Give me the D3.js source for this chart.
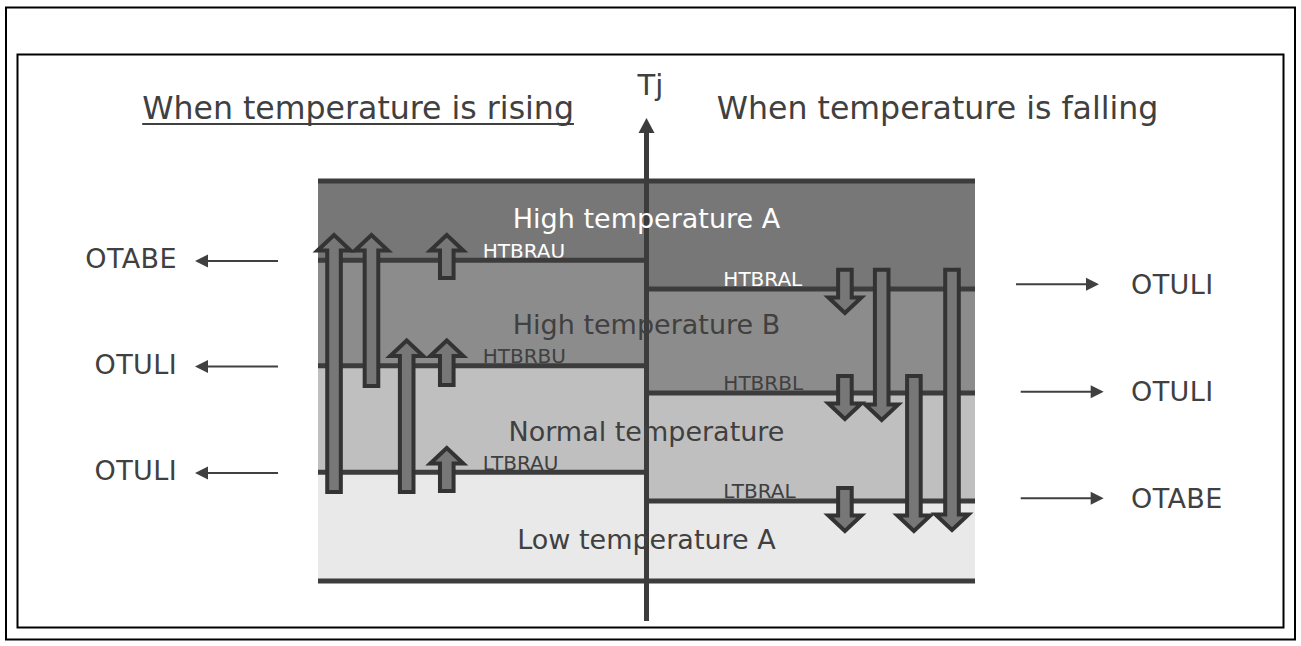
<!DOCTYPE html>
<html><head><meta charset="utf-8">
<script src="https://cdn.jsdelivr.net/npm/d3@7"></script>
<style>
html,body{margin:0;padding:0;background:#fff;}
svg{display:block;}
text{font-family:"DejaVu Sans",Verdana,sans-serif;}
</style>
</head><body>
<svg id="c" width="1301" height="646"></svg>
<script>
// ---------------- data ----------------
const titles = ["When temperature is rising", "When temperature is falling"];
const axisLabel = "Tj";
const bandNames = ["High temperature A", "High temperature B", "Normal temperature", "Low temperature A"];
const bandLabelLevels = [88.25, 61.7, 35, 8];          // Tj level of each band label baseline
const tjMax = 100, tjMin = 0;

const risingNames = ["HTBRAU", "HTBRBU", "LTBRAU"];
const risingLevels = [80.2, 53.8, 27.2];
const fallingNames = ["HTBRAL", "HTBRBL", "LTBRAL"];
const fallingLevels = [73, 47, 20];

const risingNotes = ["OTABE", "OTULI", "OTULI"];
const fallingNotes = ["OTULI", "OTULI", "OTABE"];
const fallingNoteLevels = [74.2, 47.3, 20.7];

// arrows: lane (0-100 across the chart), from Tj, to Tj
const upLanes = [2.44, 8.14, 19.6, 13.5, 19.6, 19.6];
const upFrom  = [22.25, 48.75, 75.75, 22.25, 49, 22.5];
const upTo    = [86.5, 86.5, 86.5, 60.1, 60.1, 33.25];
const downLanes = [80.2, 85.8, 96.5, 80.2, 90.7, 80.2];
const downFrom  = [77.8, 77.8, 77.8, 51.25, 51.25, 23.25];
const downTo    = [67, 40.25, 12.75, 40.5, 12.5, 12.5];

// ---------------- styles / layout ----------------
const bandFill = ["#777777", "#8c8c8c", "#bfbfbf", "#e9e9e9"];
const bandTextFill = ["#ffffff", "#404040", "#404040", "#404040"];
const risingLabelFill = ["#ffffff", "#404040", "#404040"];
const fallingLabelFill = ["#ffffff", "#404040", "#404040"];
const lineCol = "#3c3c3c", textCol = "#404040";

const svg = d3.select("#c");
const x = d3.scaleLinear().domain([0, 100]).range([318, 975]);
const y = d3.scaleLinear().domain([tjMin, tjMax]).range([581, 181]);
const axisLane = 50;

// frames
svg.append("rect").attr("x", 6).attr("y", 7.5).attr("width", 1289).attr("height", 632)
  .attr("fill", "none").attr("stroke", "#000").attr("stroke-width", 2);
svg.append("rect").attr("x", 17.5).attr("y", 54.5).attr("width", 1266).attr("height", 573)
  .attr("fill", "none").attr("stroke", "#000").attr("stroke-width", 2);

// bands
function bands(levels, x0, x1) {
  const edges = [tjMax, ...levels, tjMin];
  const g = svg.append("g");
  g.selectAll("rect").data(bandNames).join("rect")
    .attr("x", x(x0)).attr("width", x(x1) - x(x0))
    .attr("y", (d, i) => y(edges[i])).attr("height", (d, i) => y(edges[i + 1]) - y(edges[i]))
    .attr("fill", (d, i) => bandFill[i]);
}
bands(risingLevels, 0, axisLane);
bands(fallingLevels, axisLane, 100);

// threshold labels
svg.append("g").selectAll("text").data(risingNames).join("text")
  .attr("x", x(25.07)).attr("y", (d, i) => y(risingLevels[i]) - 2.5)
  .attr("font-size", 20).attr("fill", (d, i) => risingLabelFill[i]).text(d => d);
svg.append("g").selectAll("text").data(fallingNames).join("text")
  .attr("x", x(61.7)).attr("y", (d, i) => y(fallingLevels[i]) - 3.5)
  .attr("font-size", 20).attr("fill", (d, i) => fallingLabelFill[i]).text(d => d);

// threshold lines
const lines = svg.append("g").attr("stroke", lineCol).attr("stroke-width", 5);
lines.selectAll(".r").data(risingLevels).join("line").attr("class", "r")
  .attr("x1", x(0)).attr("x2", x(axisLane)).attr("y1", d => y(d)).attr("y2", d => y(d));
lines.selectAll(".f").data(fallingLevels).join("line").attr("class", "f")
  .attr("x1", x(axisLane)).attr("x2", x(100)).attr("y1", d => y(d)).attr("y2", d => y(d));
lines.selectAll(".e").data([tjMax, tjMin]).join("line").attr("class", "e")
  .attr("x1", x(0)).attr("x2", x(100)).attr("y1", d => y(d)).attr("y2", d => y(d));

// Tj axis
const ax = x(axisLane);
svg.append("line").attr("x1", ax).attr("x2", ax).attr("y1", 621).attr("y2", 130)
  .attr("stroke", lineCol).attr("stroke-width", 5);
svg.append("path").attr("d", `M${ax - 8},133 L${ax},118 L${ax + 8},133 Z`).attr("fill", lineCol);
svg.append("text").attr("x", ax + 4).attr("y", 95).attr("text-anchor", "middle")
  .attr("font-size", 29).attr("fill", textCol).text(axisLabel);

// titles
const titleX = [x(6.1), x(94.3)];
const tt = svg.append("g").selectAll("text").data(titles).join("text")
  .attr("x", (d, i) => titleX[i]).attr("y", 119).attr("text-anchor", "middle")
  .attr("font-size", 31.6).attr("fill", textCol).text(d => d);
{
  const n = tt.nodes()[0];
  const w = n.getComputedTextLength();
  svg.append("line").attr("x1", titleX[0] - w / 2).attr("x2", titleX[0] + w / 2)
    .attr("y1", 124).attr("y2", 124).attr("stroke", textCol).attr("stroke-width", 2);
}

// band labels
svg.append("g").selectAll("text").data(bandNames).join("text")
  .attr("x", ax).attr("y", (d, i) => y(bandLabelLevels[i])).attr("text-anchor", "middle")
  .attr("font-size", 27).attr("fill", (d, i) => bandTextFill[i]).text(d => d);

// block arrows
const hw = 6.8, hh = 16.5, hl = 15.5;
function upPath(cx, yb, yt) {
  return `M${cx - hw},${yb} L${cx - hw},${yt + hl} L${cx - hh},${yt + hl} L${cx},${yt} L${cx + hh},${yt + hl} L${cx + hw},${yt + hl} L${cx + hw},${yb} Z`;
}
function downPath(cx, yt, yb) {
  return `M${cx - hw},${yt} L${cx - hw},${yb - hl} L${cx - hh},${yb - hl} L${cx},${yb} L${cx + hh},${yb - hl} L${cx + hw},${yb - hl} L${cx + hw},${yt} Z`;
}
const ag = svg.append("g").attr("fill", "#777777").attr("stroke", "#333333").attr("stroke-width", 4)
  .attr("stroke-linejoin", "miter");
ag.selectAll(".u").data(upLanes).join("path").attr("class", "u")
  .attr("d", (d, i) => upPath(x(d), y(upFrom[i]), y(upTo[i])));
ag.selectAll(".d").data(downLanes).join("path").attr("class", "d")
  .attr("d", (d, i) => downPath(x(d), y(downFrom[i]), y(downTo[i])));

// side notes
function thinArrow(x1, x2, yy) {
  const dir = Math.sign(x2 - x1);
  svg.append("line").attr("x1", x1).attr("x2", x2 - dir * 10).attr("y1", yy).attr("y2", yy)
    .attr("stroke", textCol).attr("stroke-width", 2);
  svg.append("path").attr("d", `M${x2},${yy} L${x2 - dir * 13},${yy - 6.5} L${x2 - dir * 13},${yy + 6.5} Z`)
    .attr("fill", textCol);
}
risingNotes.forEach((t, i) => {
  const yy = y(risingLevels[i]) + 0.7;
  thinArrow(x(0) - 40, x(0) - 123, yy);
  svg.append("text").attr("x", 177).attr("y", yy + 7.5).attr("text-anchor", "end")
    .attr("font-size", 27).attr("letter-spacing", 0.4).attr("fill", textCol).text(t);
});
fallingNotes.forEach((t, i) => {
  const yy = y(fallingNoteLevels[i]);
  const off = i === 0 ? 0 : 4.7;
  thinArrow(x(100) + 41 + off, x(100) + 124 + off, yy);
  svg.append("text").attr("x", 1131).attr("y", yy + 9.5)
    .attr("font-size", 27).attr("letter-spacing", 0.4).attr("fill", textCol).text(t);
});
</script>
</body></html>
